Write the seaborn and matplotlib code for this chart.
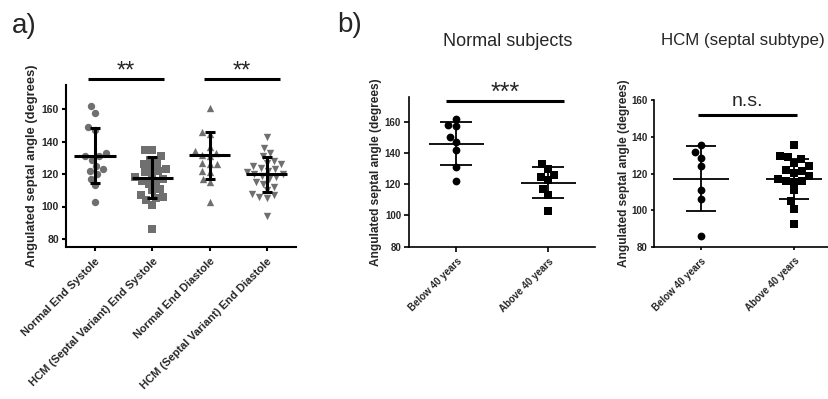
import numpy as np
import pandas as pd
import matplotlib
matplotlib.use("Agg")
import matplotlib.pyplot as plt
import seaborn as sns

sns.set_theme(style="ticks")
plt.rcParams["font.family"] = ["Liberation Sans", "DejaVu Sans"]

# ---------------- data: panel a ----------------
cats_a = ["Normal End Systole", "HCM (Septal Variant) End Systole",
          "Normal End Diastole", "HCM (Septal Variant) End Diastole"]
normal_es = [162, 158, 149, 147, 133, 131, 131, 129, 125, 123, 122, 120, 117, 113, 103]
hcm_es = [135, 135, 131, 129, 127, 126, 124, 123, 122, 121, 119, 118, 117, 116,
          115, 114, 111, 110, 107, 106, 105, 104, 101, 86]
normal_ed = [161, 146, 145, 137, 134, 133, 132, 131, 127, 126, 126, 122, 121, 117, 115, 103]
hcm_ed = [143, 136, 133, 131, 128, 127, 126, 125, 124, 123, 122, 121, 120, 120, 119,
          118, 117, 115, 114, 112, 110, 108, 107, 106, 105, 94]
mean_a = [131.2, 117.8, 131.6, 119.9]
sd_a = [17.0, 12.6, 14.4, 10.8]

# ---------------- data: panel b ----------------
age_cats = ["Below 40 years", "Above 40 years"]
normal_below = [162, 158, 157, 150, 147, 142, 131, 122]
normal_above = [133, 130, 126, 124.5, 122.5, 117, 113, 103]
mean_normal = [146.0, 121.0]
sd_normal = [13.8, 9.8]
hcm_below = [135.5, 131.5, 128.5, 124, 111, 106, 86]
hcm_above = [135.5, 129.5, 129, 128, 126, 124, 122, 121.5, 120.5, 118.5, 117,
             116, 116, 115.5, 111, 105, 101, 92.5]
mean_hcm = [117.2, 116.9]
sd_hcm = [17.6, 10.9]

ylab = "Angulated septal angle (degrees)"

W, H = 829, 399
fig = plt.figure(figsize=(W / 100, H / 100), dpi=100)


def ax_px(l, r, t, b):
    return fig.add_axes([l / W, 1 - b / H, (r - l) / W, (b - t) / H])


def style_axes(ax, lw, ticklen):
    for s in ["top", "right"]:
        ax.spines[s].set_visible(False)
    for s in ["left", "bottom"]:
        ax.spines[s].set_linewidth(lw)
        ax.spines[s].set_color("black")
    ax.tick_params(axis="both", direction="out", length=ticklen, width=lw, color="black")


# ================= panel a =================
axa = ax_px(66, 296, 85, 247)
grey = "#6f6f6f"
markers_a = ["o", "s", "^", "v"]
vals_a = [normal_es, hcm_es, normal_ed, hcm_ed]
for cat, vals, m in zip(cats_a, vals_a, markers_a):
    d = pd.DataFrame({"group": [cat] * len(vals), "value": vals})
    sns.swarmplot(data=d, x="group", y="value", order=cats_a, marker=m,
                  color=grey, size=5.3, linewidth=0, ax=axa, zorder=2)
xa = np.arange(len(cats_a))
axa.hlines(mean_a, xa - 0.36, xa + 0.36, colors="black", lw=2.2, zorder=5)
axa.errorbar(xa, mean_a, yerr=sd_a, fmt="none", ecolor="black", elinewidth=2.2,
             capsize=3.6, capthick=2.2, zorder=5)
axa.set_xlim(-0.506, 3.51)
axa.set_ylim(75, 175)
axa.set_yticks([80, 100, 120, 140, 160])
style_axes(axa, 1.5, 3)
axa.set_xlabel("")
axa.set_ylabel(ylab, fontsize=9.3, fontweight="bold", labelpad=3)
axa.set_xticks(xa)
axa.set_xticklabels(cats_a, rotation=45, ha="right", va="top",
                    rotation_mode="anchor", fontsize=8, fontweight="bold")
for t in axa.get_yticklabels():
    t.set_fontsize(7.5)
    t.set_fontweight("bold")
axa.tick_params(axis="y", pad=2)
# significance bars
for x0, x1, lbl in [(-0.12, 1.2, "**"), (1.9, 3.23, "**")]:
    axa.plot([x0, x1], [178.6, 178.6], color="black", lw=2.2, clip_on=False,
             solid_capstyle="butt")
    axa.text((x0 + x1) / 2, 179.8, lbl, ha="center", va="baseline", fontsize=17)

# ================= panel b: normal subjects =================
axb1 = ax_px(408.7, 595, 96.7, 246.7)
for cat, vals, m in zip(age_cats, [normal_below, normal_above], ["o", "s"]):
    d = pd.DataFrame({"group": [cat] * len(vals), "value": vals})
    sns.swarmplot(data=d, x="group", y="value", order=age_cats, marker=m,
                  color="black", size=5.6, linewidth=0, ax=axb1, zorder=2)
xb = np.arange(2)
axb1.hlines(mean_normal, xb - 0.3, xb + 0.3, colors="black", lw=1.3, zorder=5)
axb1.errorbar(xb, mean_normal, yerr=sd_normal, fmt="none", ecolor="black",
              elinewidth=1.3, capsize=11.5, capthick=1.3, zorder=5)
axb1.set_xlim(-0.52, 1.51)
axb1.set_ylim(80, 176)
axb1.set_yticks([80, 100, 120, 140, 160])
style_axes(axb1, 1.2, 3.5)
axb1.set_xlabel("")
axb1.set_ylabel(ylab, fontsize=8.6, fontweight="bold", labelpad=2)
axb1.set_xticks(xb)
axb1.set_xticklabels(age_cats, rotation=45, ha="right", va="top",
                     rotation_mode="anchor", fontsize=7, fontweight="bold")
for t in axb1.get_yticklabels():
    t.set_fontsize(7)
    t.set_fontweight("bold")
axb1.tick_params(axis="y", pad=2)
axb1.plot([-0.11, 1.17], [173, 173], color="black", lw=2.2, clip_on=False,
          solid_capstyle="butt")
axb1.text(0.53, 173.8, "***", ha="center", va="baseline", fontsize=18)

# ================= panel b: HCM =================
axb2 = ax_px(654, 840.7, 100, 247.3)
for cat, vals, m in zip(age_cats, [hcm_below, hcm_above], ["o", "s"]):
    d = pd.DataFrame({"group": [cat] * len(vals), "value": vals})
    sns.swarmplot(data=d, x="group", y="value", order=age_cats, marker=m,
                  color="black", size=5.6, linewidth=0, ax=axb2, zorder=2)
axb2.hlines(mean_hcm, xb - 0.3, xb + 0.3, colors="black", lw=1.3, zorder=5)
axb2.errorbar(xb, mean_hcm, yerr=sd_hcm, fmt="none", ecolor="black",
              elinewidth=1.3, capsize=11, capthick=1.3, zorder=5)
axb2.set_xlim(-0.5, 1.5)
axb2.set_ylim(80, 160)
axb2.set_yticks([80, 100, 120, 140, 160])
style_axes(axb2, 1.2, 2.5)
axb2.set_xlabel("")
axb2.set_ylabel(ylab, fontsize=8.6, fontweight="bold", labelpad=1)
axb2.set_xticks(xb)
axb2.set_xticklabels(age_cats, rotation=45, ha="right", va="top",
                     rotation_mode="anchor", fontsize=7, fontweight="bold")
for t in axb2.get_yticklabels():
    t.set_fontsize(7)
    t.set_fontweight("bold")
axb2.tick_params(axis="y", pad=2)
axb2.plot([-0.03, 1.03], [152, 152], color="black", lw=2.2, clip_on=False,
          solid_capstyle="butt")
axb2.text(0.5, 156.5, "n.s.", ha="center", va="baseline", fontsize=14)

# ================= titles & panel labels =================
fig.text(12 / W, 1 - 33 / H, "a)", fontsize=20, va="baseline", ha="left")
fig.text(337 / W, 1 - 32 / H, "b)", fontsize=20, va="baseline", ha="left")
fig.text(507.5 / W, 1 - 45.5 / H, "Normal subjects", fontsize=13,
         ha="center", va="baseline")
fig.text(661 / W, 1 - 45.5 / H, "HCM (septal subtype)", fontsize=12.2,
         ha="left", va="baseline")

fig.savefig("out.png", dpi=100)
